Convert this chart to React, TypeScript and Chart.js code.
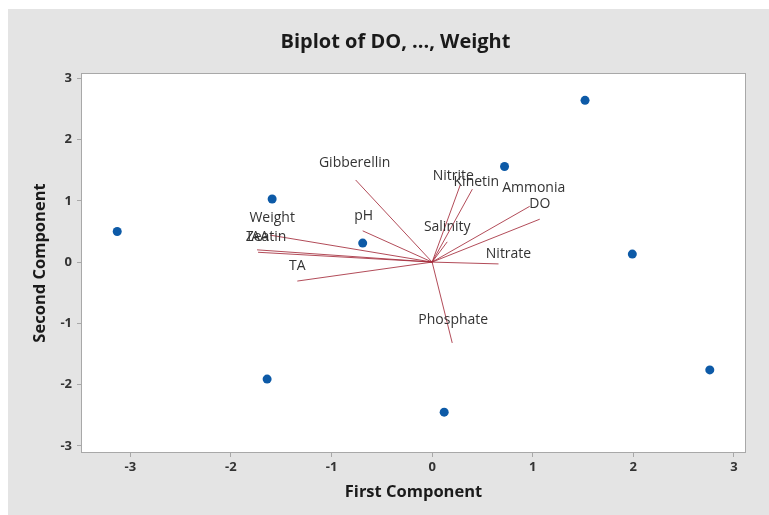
import React, { useEffect, useRef } from 'react';
import { Chart, registerables } from 'chart.js';

Chart.register(...registerables);

// ---- text ----
const TITLE = 'Biplot of DO, ..., Weight';
const X_TITLE = 'First Component';
const Y_TITLE = 'Second Component';

// ---- tick labels ----
const xTicks = [-3, -2, -1, 0, 1, 2, 3];
const yTicks = [-3, -2, -1, 0, 1, 2, 3];

// ---- observation scores ----
const scoreX = [-3.13, -1.59, -0.69, -1.64, 0.12, 0.72, 1.52, 1.99, 2.76];
const scoreY = [0.5, 1.03, 0.31, -1.91, -2.45, 1.56, 2.64, 0.13, -1.76];

// ---- variable loadings (vectors) ----
const variables = ['DO', 'Ammonia', 'Nitrite', 'Kinetin', 'Salinity', 'Nitrate', 'Phosphate', 'Gibberellin', 'pH', 'Weight', 'IAA', 'Zeatin', 'TA'];
const loadX = [1.07, 0.97, 0.28, 0.4, 0.15, 0.66, 0.2, -0.76, -0.69, -1.61, -1.73, -1.74, -1.34];
const loadY = [0.7, 0.91, 1.26, 1.19, 0.33, -0.03, -1.32, 1.34, 0.51, 0.44, 0.16, 0.2, -0.31];

// label placement nudges in pixels (style, relative to the vector tip)
const labelDx = [0, 4, -7, 4, 0, 10, 1, -1, 1, 2, 0, 9, 0];
const labelDy = [-15, -18, -9, -7, -15, -10, -23, -17, -15, -17, -15, -13, -15];

const W = 769;
const H = 515;
const VEC = 'rgba(165,45,60,0.85)';
const DOT = '#0d5aa7';
const FONT = "'Open Sans', 'DejaVu Sans', sans-serif";

export default function App() {
  const ref = useRef<HTMLCanvasElement>(null);

  useEffect(() => {
    if (!ref.current) return;
    const points = scoreX.map((x, i) => ({ x, y: scoreY[i] }));
    const vectorSets = variables.map((name, i) => ({
      label: name,
      data: [{ x: 0, y: 0 }, { x: loadX[i], y: loadY[i] }],
      showLine: true,
      borderColor: VEC,
      backgroundColor: VEC,
      borderWidth: 1,
      pointRadius: 0,
      order: 2,
    }));

    const bgPlugin = {
      id: 'bgPlugin',
      beforeDraw(chart: any) {
        const { ctx, chartArea: a } = chart;
        ctx.save();
        ctx.fillStyle = '#ffffff';
        ctx.fillRect(0, 0, W, H);
        ctx.fillStyle = '#e4e4e4';
        ctx.fillRect(8, 9, W - 8, H - 9);
        ctx.fillStyle = '#ffffff';
        ctx.fillRect(a.left, a.top, a.right - a.left, a.bottom - a.top);
        ctx.restore();
      },
      afterDatasetsDraw(chart: any) {
        const { ctx, chartArea: a, scales } = chart;
        ctx.save();
        ctx.font = `14px ${FONT}`;
        ctx.fillStyle = '#333333';
        ctx.textAlign = 'center';
        ctx.textBaseline = 'middle';
        variables.forEach((name, i) => {
          const px = scales.x.getPixelForValue(loadX[i]);
          const py = scales.y.getPixelForValue(loadY[i]);
          ctx.fillText(name, px + labelDx[i], py + labelDy[i]);
        });
        ctx.strokeStyle = '#a8a8a8';
        ctx.lineWidth = 1;
        ctx.strokeRect(Math.round(a.left) - 0.5, Math.round(a.top) - 0.5, Math.round(a.right - a.left) + 1, Math.round(a.bottom - a.top) + 1);
        ctx.restore();
      },
    };

    const chart = new Chart(ref.current, {
      type: 'scatter',
      data: {
        datasets: [
          {
            label: 'Scores',
            data: points,
            backgroundColor: DOT,
            borderColor: DOT,
            borderWidth: 0,
            pointRadius: 4.5,
            order: 1,
          },
          ...vectorSets,
        ] as any,
      },
      options: {
        responsive: false,
        animation: false,
        devicePixelRatio: 1,
        layout: { padding: { left: 22, right: 0, top: 0, bottom: 0 } },
        plugins: {
          legend: { display: false },
          tooltip: { enabled: false },
          title: {
            display: true,
            text: TITLE,
            color: '#1a1a1a',
            font: { family: FONT, size: 20, weight: 'bold' },
            padding: { top: 30, bottom: 20 },
          },
        },
        scales: {
          x: {
            type: 'linear',
            min: -3.48,
            max: 3.11,
            afterBuildTicks: (s: any) => {
              s.ticks = xTicks.map((v) => ({ value: v }));
            },
            afterFit: (s: any) => {
              s.height = 63;
            },
            grid: { display: true, drawOnChartArea: false, drawTicks: true, tickLength: 5, color: '#a8a8a8' },
            border: { display: false },
            ticks: { padding: 2, color: '#333333', font: { family: FONT, size: 13, weight: 'bold' } },
            title: {
              display: true,
              text: X_TITLE,
              color: '#1a1a1a',
              font: { family: FONT, size: 16.5, weight: 'bold' },
              padding: { top: 0, bottom: 12.8 },
            },
          },
          y: {
            type: 'linear',
            position: 'left',
            min: -3.1,
            max: 3.07,
            afterBuildTicks: (s: any) => {
              s.ticks = yTicks.map((v) => ({ value: v }));
            },
            afterFit: (s: any) => {
              s.width = 60;
            },
            grid: { display: true, drawOnChartArea: false, drawTicks: true, tickLength: 5, color: '#a8a8a8' },
            border: { display: false },
            ticks: { padding: 5, color: '#333333', font: { family: FONT, size: 13, weight: 'bold' } },
            title: {
              display: true,
              text: Y_TITLE,
              color: '#1a1a1a',
              font: { family: FONT, size: 16.5, weight: 'bold' },
              padding: { top: 8.1, bottom: 0 },
            },
          },
          y2: {
            type: 'linear',
            position: 'right',
            min: 0,
            max: 1,
            grid: { display: false },
            border: { display: false },
            ticks: { display: false },
            afterFit: (s: any) => {
              s.width = 24;
            },
          },
        },
      } as any,
      plugins: [bgPlugin],
    });

    return () => chart.destroy();
  }, []);

  return (
    <div style={{ position: 'absolute', left: 0, top: 0, width: W, height: H }}>
      <canvas ref={ref} width={W} height={H} style={{ width: W, height: H, display: 'block' }} />
    </div>
  );
}
